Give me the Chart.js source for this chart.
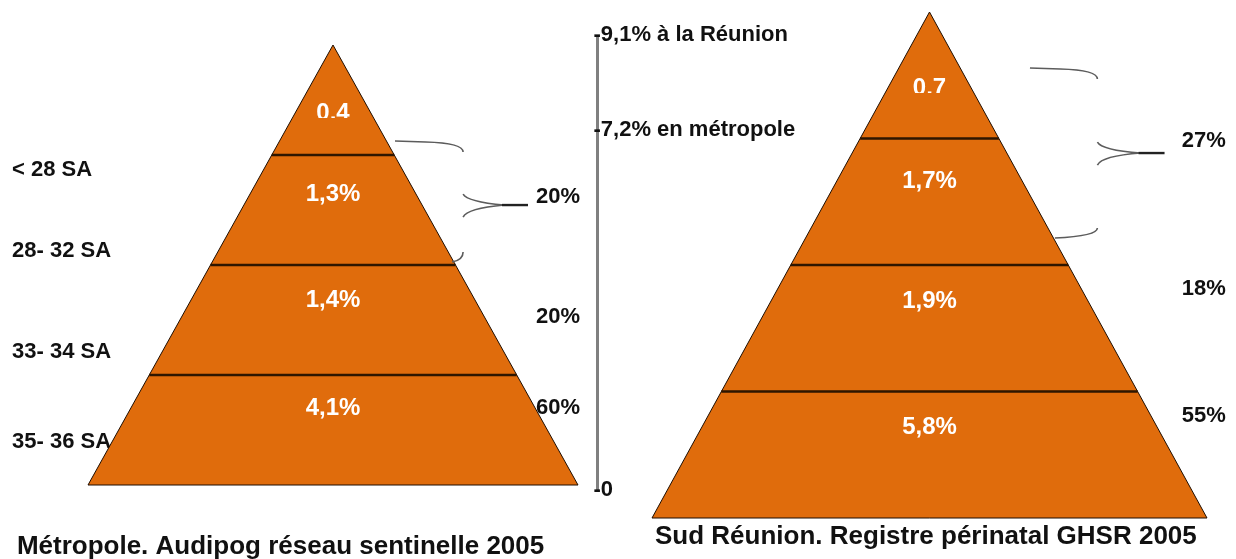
<!DOCTYPE html>
<html lang="fr">
<head>
<meta charset="utf-8">
<title>Prématurité — Métropole / Sud Réunion</title>
<script src="https://cdn.jsdelivr.net/npm/chart.js@4.4.1/dist/chart.umd.min.js"></script>
<style>
  html, body { margin: 0; padding: 0; background: #ffffff; }
  #chart { display: block; }
</style>
</head>
<body>
<canvas id="chart" width="1236" height="559"></canvas>
<script>
// ─── DATA ────────────────────────────────────────────────────────────────────
const SA_CLASSES     = ['< 28 SA', '28- 32 SA', '33- 34 SA', '35- 36 SA'];   // top → bottom
const METRO_RATES    = [0.4, 1.3, 1.4, 4.1];
const REUNION_RATES  = [0.7, 1.7, 1.9, 5.8];
const METRO_SHARES   = [20, 20, 60];     // first share groups the two top layers
const REUNION_SHARES = [27, 18, 55];
const RATE_TICKS     = [9.1, 7.2, 0];
const RATE_NAMES     = ['à la Réunion', 'en métropole', ''];
const TITLES         = ['Métropole. Audipog réseau sentinelle 2005', 'Sud Réunion. Registre périnatal GHSR 2005'];

// ─── LAYOUT (positions in axis units, not data) ─────────────────────────────
const W = 1236, H = 559;
const ORANGE = '#e06c0c';
const FONT = "'Liberation Sans', Arial, sans-serif";

const LAYOUT = {
  metro: {
    x: 'xL', y: 'yL',
    valueLevels: [3.38, 2.64, 1.68, 0.70], clipLevel: 3.336,
    classX: -1.31, classLevels: [2.86, 2.13, 1.21, 0.39],
    shareX: 1.008, shareLevels: [2.62, 1.53, 0.70],
    brace: { top: 3.127, bottom: 2.027, tip: 2.545, xTop: 0.253, xBottom: 0.486, xStem: 0.531, xTip: 0.796 },
    titleX: -0.214, titleLevel: -0.564,
  },
  reunion: {
    x: 'xR', y: 'yR',
    valueLevels: [3.40, 2.66, 1.715, 0.72], clipLevel: 3.36,
    shareX: 1.068, shareLevels: [2.98, 1.81, 0.81],
    brace: { top: 3.557, bottom: 2.213, tip: 2.885, xTop: 0.362, xBottom: 0.452, xStem: 0.605, xTip: 0.847 },
    titleX: -0.013, titleLevel: -0.150,
  },
  axisX: 1.0796,   // on xL
};

// map two pixel anchors to a scale range covering the whole canvas
function fitAxis(pxA, vA, pxB, vB, size) {
  const unit = (pxB - pxA) / (vB - vA);
  const a = vA - pxA / unit;
  const b = vA + (size - pxA) / unit;
  return { min: Math.min(a, b), max: Math.max(a, b) };
}

const N = SA_CLASSES.length;

// ─── GEOMETRY FROM DATA ─────────────────────────────────────────────────────
function outline() {
  return [{ x: -1, y: 0 }, { x: 0, y: N }, { x: 1, y: 0 }];
}
function divider(k) {
  const w = 1 - k / N;
  return [{ x: -w, y: k }, { x: w, y: k }];
}

// higher `order` is drawn first, so the filled body goes under the dividers
function pyramidDatasets(xId, yId) {
  const sets = [{
    data: outline(), xAxisID: xId, yAxisID: yId, order: 2,
    backgroundColor: ORANGE, borderColor: '#1e0d00', borderWidth: 1,
    fill: 'origin', pointRadius: 0, tension: 0,
  }];
  for (let k = 0; k < N; k++) {
    sets.push({
      data: divider(k), xAxisID: xId, yAxisID: yId, order: 1,
      borderColor: k === 0 ? '#1e0d00' : '#2e1600', borderWidth: k === 0 ? 1 : 2.5,
      fill: false, pointRadius: 0,
    });
  }
  return sets;
}

const fmt = v => v.toFixed(1).replace('.', ',') + '%';

// ─── TEXT + BRACES PLUGIN ───────────────────────────────────────────────────
function text(ctx, str, x, y, font, color, align) {
  ctx.font = font;
  ctx.fillStyle = color;
  ctx.textAlign = align;
  ctx.textBaseline = 'middle';
  ctx.fillText(str, x, y);
}

function drawBrace(ctx, sx, sy, b) {
  const xT = sx.getPixelForValue(b.xTop), xB = sx.getPixelForValue(b.xBottom);
  const xs = sx.getPixelForValue(b.xStem), xt = sx.getPixelForValue(b.xTip);
  const yT = sy.getPixelForValue(b.top), yB = sy.getPixelForValue(b.bottom), yM = sy.getPixelForValue(b.tip);
  ctx.save();
  ctx.strokeStyle = '#5c5c5c';
  ctx.lineWidth = 1.6;
  ctx.beginPath();
  ctx.moveTo(xT, yT);
  ctx.lineTo(xT + (xs - xT) * 0.45, yT + 1);
  ctx.quadraticCurveTo(xs, yT + 2, xs, yT + 11);
  ctx.moveTo(xs, yM - 11);
  ctx.bezierCurveTo(xs + 4, yM - 4, xs + 30, yM - 1, xt - 24, yM);
  ctx.moveTo(xs, yM + 12);
  ctx.bezierCurveTo(xs + 4, yM + 4, xs + 30, yM + 1, xt - 24, yM);
  ctx.moveTo(xs, yB - 10);
  ctx.quadraticCurveTo(xs, yB - 2, xB, yB);
  ctx.stroke();
  ctx.strokeStyle = '#222';
  ctx.lineWidth = 2.4;
  ctx.beginPath();
  ctx.moveTo(xt - 26, yM);
  ctx.lineTo(xt, yM);
  ctx.stroke();
  ctx.restore();
}

const labelsPlugin = {
  id: 'pyramidLabels',
  beforeDatasetsDraw(chart) {
    const ctx = chart.ctx;
    const s = chart.scales;
    // class labels and shares sit under the pyramids
    const m = LAYOUT.metro, r = LAYOUT.reunion;
    SA_CLASSES.forEach((c, i) => {
      text(ctx, c, s[m.x].getPixelForValue(m.classX), s[m.y].getPixelForValue(m.classLevels[i]),
        'bold 22px ' + FONT, '#111', 'left');
    });
    [[m, METRO_SHARES], [r, REUNION_SHARES]].forEach(([L, shares]) => {
      shares.forEach((v, i) => {
        text(ctx, v + '%', s[L.x].getPixelForValue(L.shareX), s[L.y].getPixelForValue(L.shareLevels[i]),
          'bold 22px ' + FONT, '#111', 'right');
      });
    });
  },
  afterDatasetsDraw(chart) {
    const ctx = chart.ctx;
    const s = chart.scales;
    [[LAYOUT.metro, METRO_RATES, TITLES[0]], [LAYOUT.reunion, REUNION_RATES, TITLES[1]]].forEach(([L, rates, title]) => {
      const sx = s[L.x], sy = s[L.y];
      const cx = sx.getPixelForValue(0);
      rates.forEach((v, i) => {
        ctx.save();
        if (i === 0) {
          // the top value is cut off in the original
          ctx.beginPath();
          ctx.rect(0, 0, W, sy.getPixelForValue(L.clipLevel));
          ctx.clip();
        }
        const str = i === 0 ? fmt(v).replace('%', '') : fmt(v);
        text(ctx, str, cx, sy.getPixelForValue(L.valueLevels[i]), 'bold 24px ' + FONT, '#ffffff', 'center');
        ctx.restore();
      });
      drawBrace(ctx, sx, sy, L.brace);
      text(ctx, title, sx.getPixelForValue(L.titleX), sy.getPixelForValue(L.titleLevel),
        'bold 26px ' + FONT, '#111', 'center');
    });

    // rate axis between the pyramids
    const ax = s.xL.getPixelForValue(LAYOUT.axisX);
    RATE_TICKS.forEach((v, i) => {
      const str = '-' + (v === 0 ? '0' : fmt(v) + ' ' + RATE_NAMES[i]);
      text(ctx, str, ax - 4, s.yM.getPixelForValue(v), 'bold 22px ' + FONT, '#111', 'left');
    });
  },
};

// ─── CHART ──────────────────────────────────────────────────────────────────
const xL = fitAxis(333, 0, 578, 1, W);
const xR = fitAxis(929.5, 0, 1207, 1, W);
const yL = fitAxis(485, 0, 45, N, H);
const yR = fitAxis(518, 0, 12, N, H);
const yM = fitAxis(490, 0, 35, RATE_TICKS[0], H);

const axisLine = {
  data: [{ x: LAYOUT.axisX, y: 0 }, { x: LAYOUT.axisX, y: RATE_TICKS[0] }],
  xAxisID: 'xL', yAxisID: 'yM', order: 0,
  borderColor: '#808080', borderWidth: 3, pointRadius: 0, fill: false,
};

new Chart(document.getElementById('chart'), {
  type: 'line',
  data: {
    datasets: [axisLine, ...pyramidDatasets('xL', 'yL'), ...pyramidDatasets('xR', 'yR')],
  },
  options: {
    responsive: false,
    animation: false,
    layout: { padding: 0 },
    plugins: { legend: { display: false }, tooltip: { enabled: false } },
    scales: {
      xL: { type: 'linear', axis: 'x', display: false, ...xL },
      xR: { type: 'linear', axis: 'x', display: false, ...xR },
      yL: { type: 'linear', axis: 'y', display: false, ...yL },
      yR: { type: 'linear', axis: 'y', display: false, ...yR },
      yM: { type: 'linear', axis: 'y', display: false, ...yM },
    },
  },
  plugins: [labelsPlugin],
});
</script>
</body>
</html>
